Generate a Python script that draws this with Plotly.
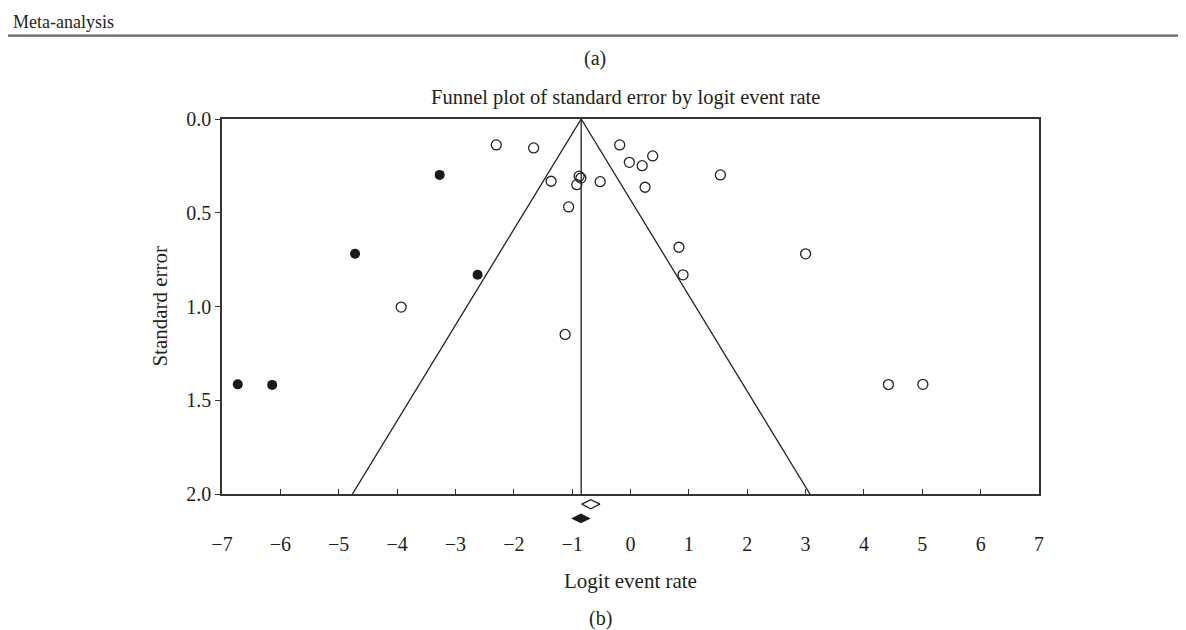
import plotly.graph_objects as go

# Observed studies (open circles)
obs_x = [-2.30, -1.66, -1.36, -0.92, -0.88, -0.85, -1.06, -3.93, -1.12, -0.185, -0.02,
         0.20, 0.38, -0.52, 0.25, 1.54, 0.83, 0.90, 3.00, 4.42, 5.01]
obs_se = [0.138, 0.154, 0.332, 0.350, 0.305, 0.315, 0.469, 1.003, 1.149, 0.138, 0.231,
          0.249, 0.197, 0.334, 0.364, 0.298, 0.684, 0.831, 0.719, 1.416, 1.415]
# Imputed studies (filled circles)
imp_x = [-3.27, -4.72, -2.62, -6.73, -6.14]
imp_se = [0.298, 0.719, 0.831, 1.415, 1.418]
# Summary estimates (diamonds below the axis)
obs_summary_x, obs_summary_y = [-0.68], [2.054]
adj_summary_x, adj_summary_y = [-0.85], [2.13]
# Funnel
center = -0.845
z = 1.96
se_max = 2.0

x_ticks = list(range(-7, 8))
y_ticks = [0.0, 0.5, 1.0, 1.5, 2.0]

FONT = "Liberation Serif"
TXT = "#231f20"

# page geometry (page pixels; body has an 8px margin)
OFF = 8
W, H = 1186 - OFF, 630 - OFF
L, R, T, B = 221.7, 1039.3, 118.5, 494.0   # main frame
BX = 530.0                                  # bottom of extended area (diamonds)
pw, ph = R - L, BX - T
d = (BX - B) / ph
se_per_px = se_max / (B - T)
y2_bottom = se_max + (BX - B) * se_per_px


def px(x):
    return (x - L) / pw


def py(y):
    return (BX - y) / ph


fig = go.Figure()

# funnel lines
fig.add_trace(go.Scatter(
    x=[center - z * se_max, center, center + z * se_max],
    y=[se_max, 0, se_max],
    mode="lines", line=dict(color="#222", width=1.3), hoverinfo="skip", showlegend=False))
fig.add_trace(go.Scatter(
    x=[center, center], y=[0, se_max],
    mode="lines", line=dict(color="#222", width=1.3), hoverinfo="skip", showlegend=False))

fig.add_trace(go.Scatter(
    x=obs_x, y=obs_se, mode="markers",
    marker=dict(symbol="circle-open", size=10, color="#222", line=dict(width=1.3)),
    showlegend=False))
fig.add_trace(go.Scatter(
    x=imp_x, y=imp_se, mode="markers",
    marker=dict(symbol="circle", size=10, color="#1a1a1a"),
    showlegend=False))
fig.add_trace(go.Scatter(
    x=obs_summary_x, y=obs_summary_y, mode="markers", yaxis="y2",
    marker=dict(symbol="diamond-wide-open", size=13, color="#222", line=dict(width=1.3)),
    showlegend=False))
fig.add_trace(go.Scatter(
    x=adj_summary_x, y=adj_summary_y, mode="markers", yaxis="y2",
    marker=dict(symbol="diamond-wide", size=14, color="#1a1a1a"),
    showlegend=False))

fig.update_layout(
    width=W, height=H,
    margin=dict(l=L - OFF, r=W - (R - OFF), t=T - OFF, b=H - (BX - OFF), pad=0),
    plot_bgcolor="rgba(0,0,0,0)", paper_bgcolor="white",
    font=dict(family=FONT, size=16, color=TXT),
    xaxis=dict(range=[-7, 7], tickvals=x_ticks, ticks="inside", ticklen=5, tickwidth=1.2,
               tickcolor="#333", showline=True, linecolor="#333", linewidth=1.5, mirror=True,
               showgrid=False, zeroline=False, ticklabelstandoff=31, anchor="y",
               tickfont=dict(family=FONT, size=20, color=TXT)),
    yaxis=dict(range=[se_max, 0.0], domain=[d, 1], tickvals=y_ticks, tickformat=".1f",
               ticks="outside", ticklen=5, tickwidth=1.2, tickcolor="#333", showline=True,
               linecolor="#333", linewidth=1.5, mirror=True, showgrid=False, zeroline=False,
               anchor="x", tickfont=dict(family=FONT, size=20, color=TXT)),
    yaxis2=dict(range=[y2_bottom, se_max], domain=[0, d], visible=False, anchor="x",
                showgrid=False, zeroline=False),
    shapes=[dict(type="line", xref="paper", yref="paper", x0=px(7), x1=px(1183),
                 y0=py(35), y1=py(35), line=dict(color="#666", width=2.2))],
    annotations=[
        dict(text="Meta-analysis", xref="paper", yref="paper", x=px(11), y=py(21),
             xanchor="left", yanchor="middle", showarrow=False, font=dict(size=18)),
        dict(text="(a)", xref="paper", yref="paper", x=px(595), y=py(58),
             xanchor="center", yanchor="middle", showarrow=False, font=dict(size=20)),
        dict(text="Funnel plot of standard error by logit event rate", xref="paper",
             yref="paper", x=px(429), y=py(97), xanchor="left", yanchor="middle",
             showarrow=False, font=dict(size=20.5)),
        dict(text="Logit event rate", xref="paper", yref="paper", x=px(631), y=py(581),
             xanchor="center", yanchor="middle", showarrow=False, font=dict(size=21)),
        dict(text="(b)", xref="paper", yref="paper", x=px(600), y=py(619),
             xanchor="center", yanchor="middle", showarrow=False, font=dict(size=20)),
        dict(text="Standard error", xref="paper", yref="paper", x=px(160), y=py(306),
             xanchor="center", yanchor="middle", textangle=-90, showarrow=False,
             font=dict(size=21)),
    ],
)

fig.write_html("out.html")
